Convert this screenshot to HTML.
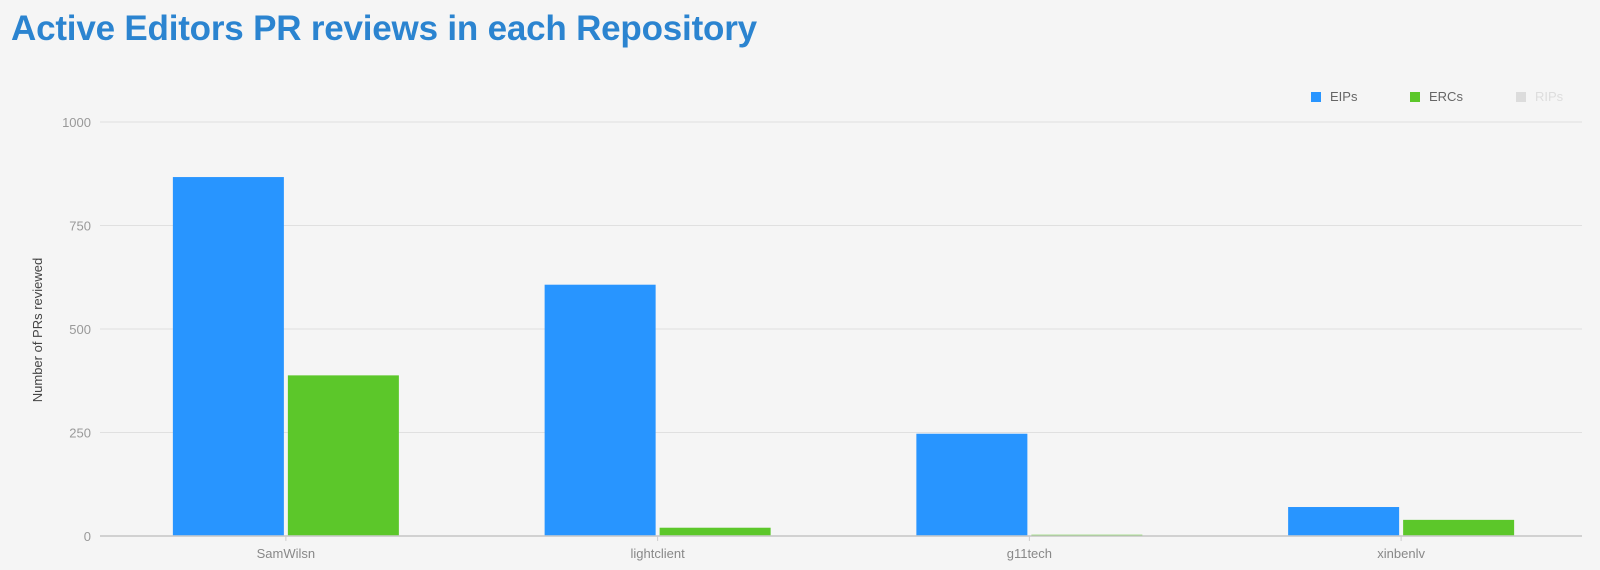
<!DOCTYPE html>
<html><head><meta charset="utf-8"><style>
body{margin:0;background:#f5f5f5;font-family:"Liberation Sans",sans-serif;}
#wrap{position:relative;width:1600px;height:570px;overflow:hidden;background:#f5f5f5;}
h1{position:absolute;left:11px;top:9px;margin:0;font-size:35px;font-weight:bold;color:#2b84d0;letter-spacing:-0.2px;}
</style></head><body>
<div id="wrap">
<h1>Active Editors PR reviews in each Repository</h1>
<svg id="chart" width="1600" height="570" style="position:absolute;left:0;top:0"></svg>
</div>
<script>
const categories=["SamWilsn","lightclient","g11tech","xinbenlv"];
const eipValues=[867,607,247,70];
const ercValues=[388,20,3,39];
const yTicks=[0,250,500,750,1000];
const seriesNames=["EIPs","ERCs","RIPs"];
const NS="http://www.w3.org/2000/svg";
const svg=document.getElementById('chart');
const L=100,R=1582,Y0=536,Y1=122,YMAX=1000;
const y=v=>Y0-(v/YMAX)*(Y0-Y1);
const band=(1587-L)/categories.length;
const cx=i=>L+band*(i+0.5);
function mk(tag,attrs){const e=document.createElementNS(NS,tag);for(const k in attrs)e.setAttribute(k,attrs[k]);svg.appendChild(e);return e;}
yTicks.forEach(t=>{
  const g=mk('line',{x1:L,x2:R,y1:y(t),y2:y(t),stroke:t===0?'#ccc':'#e0e0e0','stroke-width':t===0?1.5:1});
  
  
  const tx=mk('text',{x:91,y:y(t)+5,'text-anchor':'end','font-size':13,fill:'#999','font-family':'Liberation Sans, sans-serif'});
  tx.textContent=t;
  
  
});
const yt=mk('text',{x:0,y:0,transform:'translate(42,330) rotate(-90)','text-anchor':'middle','font-size':13,fill:'#444','font-family':'Liberation Sans, sans-serif'});
yt.textContent='Number of PRs reviewed';


const bw=111,gap=2;
categories.forEach((c,i)=>{
  const b1=mk('rect',{x:cx(i)-gap-bw,y:y(eipValues[i]),width:bw,height:Y0-y(eipValues[i]),fill:'#2895ff'});
  
  
  const b2=mk('rect',{x:cx(i)+gap,y:y(ercValues[i]),width:bw,height:Y0-y(ercValues[i]),fill:'#5cc72a'});
  
  
  const tk=mk('line',{x1:cx(i),x2:cx(i),y1:Y0,y2:Y0+5,stroke:'#ccc'});
  
  
  const lb=mk('text',{x:cx(i),y:Y0+22,'text-anchor':'middle','font-size':13,fill:'#888','font-family':'Liberation Sans, sans-serif'});
  lb.textContent=c;
  
  
});
mk('line',{x1:L,x2:R,y1:Y0,y2:Y0,stroke:'#ccc','stroke-width':1.5});
const legX=[1311,1410,1516],legC=['#2895ff','#5cc72a','#dcdcdc'],legT=['#666','#666','#ddd'];
seriesNames.forEach((s,i)=>{
  const r=mk('rect',{x:legX[i],y:92,width:10,height:10,fill:legC[i]});
  
  
  const t=mk('text',{x:legX[i]+19,y:101,'font-size':13,fill:legT[i],'font-family':'Liberation Sans, sans-serif'});
  t.textContent=s;
  
  
});
</script>
</body></html>
